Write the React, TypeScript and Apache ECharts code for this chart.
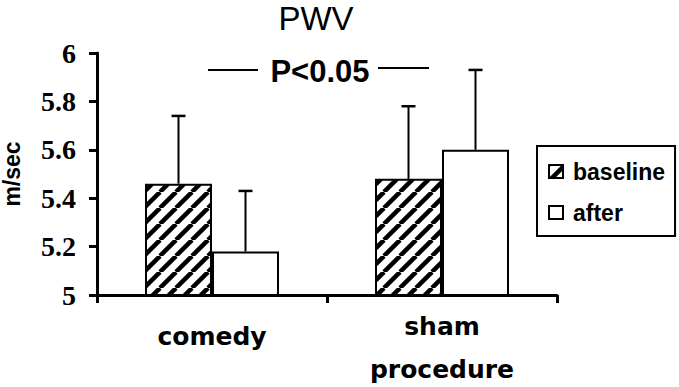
import React, { useEffect, useRef } from "react";
import * as echarts from "echarts";

const categories = ["comedy", "sham procedure"];
const seriesNames = ["baseline", "after"];
const baselineMean = [5.46, 5.48];
const baselineUpper = [5.74, 5.78];
const afterMean = [5.18, 5.6];
const afterUpper = [5.43, 5.93];
const yTicks = { min: 5, max: 6, interval: 0.2 };
const titleText = "PWV";
const pText = "P<0.05";
const yName = "m/sec";

const BAR_W = 67;

function makeHatch(): HTMLCanvasElement {
  const c = document.createElement("canvas");
  c.width = 16;
  c.height = 16;
  const ctx = c.getContext("2d")!;
  ctx.fillStyle = "#fff";
  ctx.fillRect(0, 0, 16, 16);
  ctx.strokeStyle = "#000";
  ctx.lineWidth = 4.5;
  for (const o of [-16, 0, 16]) {
    ctx.beginPath();
    ctx.moveTo(o, 16);
    ctx.lineTo(o + 16, 0);
    ctx.stroke();
  }
  return c;
}

function errSeries(name: string, mean: number[], upper: number[], offset: number) {
  return {
    type: "custom",
    name: name + "-err",
    z: 5,
    data: mean.map((m, i) => [i, m, upper[i]]),
    encode: { x: 0, y: [1, 2] },
    renderItem: (params: any, api: any) => {
      const p0 = api.coord([api.value(0), api.value(1)]);
      const p1 = api.coord([api.value(0), api.value(2)]);
      const x = p0[0] + offset;
      return {
        type: "group",
        children: [
          { type: "line", shape: { x1: x, y1: p0[1], x2: x, y2: p1[1] }, style: { stroke: "#000", lineWidth: 2 } },
          { type: "line", shape: { x1: x - 7, y1: p1[1], x2: x + 7, y2: p1[1] }, style: { stroke: "#000", lineWidth: 2.5 } },
        ],
      };
    },
  };
}

export default function App() {
  const ref = useRef<HTMLDivElement>(null);
  useEffect(() => {
    const chart = echarts.init(ref.current!, undefined, { renderer: "svg" });
    const hatch = makeHatch();
    chart.setOption({
      animation: false,
      backgroundColor: "#fff",
      grid: { left: 97, right: 122, top: 53, bottom: 92, outerBoundsMode: "none" },
      legend: {
        data: seriesNames,
        orient: "vertical",
        left: 537,
        top: 146,
        padding: [14, 10, 12, 11],
        itemGap: 18,
        itemWidth: 14,
        itemHeight: 13,
        icon: "rect",
        borderColor: "#000",
        borderWidth: 2,
        backgroundColor: "#fff",
        textStyle: { fontSize: 23, fontWeight: "bold", fontFamily: "Arial", color: "#000", lineHeight: 20, padding: [0, 0, 0, 5] },
      },
      xAxis: {
        type: "category",
        data: [{ value: categories[0], textStyle: { padding: [10, 0, 0, 0] } }, categories[1]],
        axisLine: { lineStyle: { color: "#000", width: 3 } },
        axisTick: { show: true, alignWithLabel: false, length: 8, lineStyle: { color: "#000", width: 3 } },
        axisLabel: {
          interval: 0,
          margin: 10,
          fontSize: 25,
          fontWeight: "bold",
          fontFamily: "DejaVu Sans",
          color: "#000",
          lineHeight: 43,
          formatter: (v: string) => v.replace(" ", "\n"),
        },
      },
      yAxis: {
        type: "value",
        min: yTicks.min,
        max: yTicks.max,
        interval: yTicks.interval,
        name: yName,
        nameLocation: "middle",
        nameGap: 74,
        nameTextStyle: { fontSize: 23, fontWeight: "bold", fontFamily: "Arial", color: "#000" },
        axisLine: { show: true, lineStyle: { color: "#000", width: 3 } },
        axisTick: { show: true, length: 8, lineStyle: { color: "#000", width: 3 } },
        splitLine: { show: false },
        axisLabel: { margin: 21, fontSize: 28, fontWeight: "bold", fontFamily: "'Liberation Serif', 'Times New Roman', serif", color: "#000" },
      },
      series: [
        {
          type: "bar",
          name: seriesNames[0],
          data: baselineMean,
          barWidth: BAR_W,
          barGap: "0%",
          itemStyle: { color: { image: hatch, repeat: "repeat" }, borderColor: "#000", borderWidth: 2 },
        },
        {
          type: "bar",
          name: seriesNames[1],
          data: afterMean,
          barWidth: BAR_W,
          barGap: "0%",
          itemStyle: { color: "#fff", borderColor: "#000", borderWidth: 2 },
        },
        errSeries(seriesNames[0], baselineMean, baselineUpper, -BAR_W / 2),
        errSeries(seriesNames[1], afterMean, afterUpper, BAR_W / 2),
      ],
      graphic: [
        {
          type: "text",
          x: 316,
          y: 2,
          style: { text: titleText, fontSize: 33, fontFamily: "Arial", fill: "#000", align: "center", verticalAlign: "top" },
        },
        {
          type: "text",
          x: 320,
          y: 71,
          style: { text: pText, fontSize: 31, fontWeight: "bold", fontFamily: "Arial", fill: "#000", align: "center", verticalAlign: "middle" },
        },
        { type: "line", shape: { x1: 208, y1: 70, x2: 258, y2: 70 }, style: { stroke: "#000", lineWidth: 2 } },
        { type: "line", shape: { x1: 378, y1: 68, x2: 429, y2: 68 }, style: { stroke: "#000", lineWidth: 2 } },
      ],
    });
    return () => chart.dispose();
  }, []);
  return <div ref={ref} style={{ position: "fixed", left: 0, top: 0, width: 679, height: 387 }} />;
}
